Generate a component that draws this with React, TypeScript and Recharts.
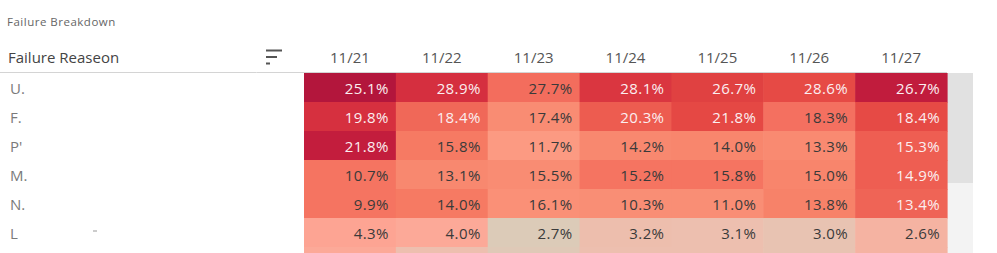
import React from "react";
import { ScatterChart, Scatter, XAxis, YAxis } from "recharts";

// ---- data ----
const dates = ["11/21", "11/22", "11/23", "11/24", "11/25", "11/26", "11/27"];
const reasons = ["U.", "F.", "P'", "M.", "N.", "L", "row7"];

const pctU = [25.1, 28.9, 27.7, 28.1, 26.7, 28.6, 26.7];
const pctF = [19.8, 18.4, 17.4, 20.3, 21.8, 18.3, 18.4];
const pctP = [21.8, 15.8, 11.7, 14.2, 14.0, 13.3, 15.3];
const pctM = [10.7, 13.1, 15.5, 15.2, 15.8, 15.0, 14.9];
const pctN = [9.9, 14.0, 16.1, 10.3, 11.0, 13.8, 13.4];
const pctL = [4.3, 4.0, 2.7, 3.2, 3.1, 3.0, 2.6];
const pctRow7: (number | null)[] = [null, null, null, null, null, null, null];

// colour measure (0..1) driving the heat colour
const heatU = [1.0, 0.88, 0.64, 0.86, 0.83, 0.79, 0.94];
const heatF = [0.875, 0.66, 0.45, 0.72, 0.8, 0.63, 0.79];
const heatP = [0.93, 0.58, 0.38, 0.48, 0.5, 0.47, 0.71];
const heatM = [0.61, 0.48, 0.45, 0.61, 0.61, 0.51, 0.71];
const heatN = [0.61, 0.58, 0.43, 0.44, 0.44, 0.53, 0.68];
const heatL = [0.3, 0.27, 0.0, 0.13, 0.12, 0.08, 0.2];
const heatRow7 = [0.27, 0.12, 0.02, 0.12, 0.12, 0.08, 0.2];

const pctRows = [pctU, pctF, pctP, pctM, pctN, pctL, pctRow7];
const heatRows = [heatU, heatF, heatP, heatM, heatN, heatL, heatRow7];

// ---- colour ramp ----
const ramp: [number, string][] = [
  [0.0, "#dccbb8"],
  [0.1, "#ebc1b1"],
  [0.15, "#efbcab"],
  [0.2, "#f5b3a2"],
  [0.28, "#fda797"],
  [0.38, "#fc9a82"],
  [0.45, "#f98c73"],
  [0.5, "#f8866d"],
  [0.58, "#f67a63"],
  [0.63, "#f47060"],
  [0.66, "#f06858"],
  [0.71, "#ee5e52"],
  [0.79, "#e64a45"],
  [0.83, "#e04141"],
  [0.87, "#d8323f"],
  [0.93, "#c31d3d"],
  [1.0, "#b3163c"],
];
const hex = (h: string) => [1, 3, 5].map((i) => parseInt(h.slice(i, i + 2), 16));
function heatColor(t: number) {
  for (let i = 1; i < ramp.length; i++) {
    if (t <= ramp[i][0]) {
      const [t0, c0] = ramp[i - 1];
      const [t1, c1] = ramp[i];
      const f = (t - t0) / (t1 - t0);
      const a = hex(c0);
      const b = hex(c1);
      const m = a.map((v, k) => Math.round(v + (b[k] - v) * f));
      return `rgb(${m[0]},${m[1]},${m[2]})`;
    }
  }
  return ramp[ramp.length - 1][1];
}

const cells = reasons.flatMap((reason, r) =>
  dates.map((date, c) => ({
    date,
    reason,
    pct: pctRows[r][c],
    heat: heatRows[r][c],
  }))
);

// ---- layout ----
const W = 997;
const PLOT_LEFT = 304;
const PLOT_RIGHT = 947;
const PLOT_TOP = 73;
const ROW_H = 29;
const CELL_W = (PLOT_RIGHT - PLOT_LEFT) / dates.length;
const H = PLOT_TOP + ROW_H * reasons.length;
const FONT = "'Open Sans', 'Noto Sans', sans-serif";

const CellShape = (props: any) => {
  const { cx, cy, payload } = props;
  if (cx == null || cy == null) return null;
  const fill = heatColor(payload.heat);
  const light = payload.heat >= 0.655;
  return (
    <g>
      <rect
        x={cx - CELL_W / 2}
        y={cy - ROW_H / 2}
        width={CELL_W + 0.6}
        height={ROW_H + 0.6}
        fill={fill}
      />
      {payload.pct != null && (
        <text
          x={cx + CELL_W / 2 - 7}
          y={cy + 6}
          textAnchor="end"
          fontFamily={FONT}
          fontSize={15}
          letterSpacing={0.4}
          fill={light ? "#fbeef0" : "#3a3a3a"}
        >
          {payload.pct.toFixed(1) + "%"}
        </text>
      )}
    </g>
  );
};

const DateTick = (props: any) => {
  const { x, payload } = props;
  return (
    <text x={x} y={63} textAnchor="middle" fontFamily={FONT} fontSize={15} fill="#555">
      {payload.value}
    </text>
  );
};

const ReasonTick = (props: any) => {
  const { y, payload } = props;
  if (payload.value === "row7") return null;
  return (
    <g>
      <text x={10} y={y + 6} textAnchor="start" fontFamily={FONT} fontSize={15} fill="#7a7a7a">
        {payload.value}
      </text>
      {payload.value === "L" && <rect x={93} y={y - 2} width={4} height={1} fill="#999" />}
    </g>
  );
};

export default function App() {
  return (
    <div style={{ position: "absolute", left: 0, top: 0, width: W, height: 253, overflow: "hidden", background: "#fff" }}>
      <svg width={W} height={253} style={{ position: "absolute", left: 0, top: 0 }}>
        <rect x={PLOT_RIGHT} y={PLOT_TOP} width={26} height={180} fill="#f3f3f3" />
        <rect x={PLOT_RIGHT} y={PLOT_TOP} width={26} height={110} fill="#e1e1e1" />
      </svg>
      <div style={{ position: "absolute", left: 0, top: 0 }}>
        <ScatterChart
          width={W}
          height={H}
          margin={{ top: PLOT_TOP - 30, right: W - PLOT_RIGHT, bottom: 0, left: 0 }}
        >
          <XAxis
            dataKey="date"
            type="category"
            allowDuplicatedCategory={false}
            orientation="top"
            height={30}
            axisLine={false}
            tickLine={false}
            interval={0}
            tick={<DateTick />}
          />
          <YAxis
            dataKey="reason"
            type="category"
            allowDuplicatedCategory={false}
            reversed
            width={PLOT_LEFT}
            axisLine={false}
            tickLine={false}
            interval={0}
            tick={<ReasonTick />}
          />
          <Scatter data={cells} shape={CellShape} isAnimationActive={false} />
        </ScatterChart>
      </div>
      <svg width={W} height={253} style={{ position: "absolute", left: 0, top: 0, pointerEvents: "none" }}>
        <text x={7} y={26} fontFamily={FONT} fontSize={11.5} letterSpacing={0.5} fill="#666">
          Failure Breakdown
        </text>
        <text x={8} y={63} fontFamily={FONT} fontSize={15} fill="#444">
          Failure Reaseon
        </text>
        <rect x={266} y={49.5} width={16} height={2} fill="#555" />
        <rect x={266} y={56} width={11} height={2} fill="#555" />
        <rect x={266} y={62.5} width={4} height={2} fill="#555" />
        <line x1={0} x2={PLOT_RIGHT} y1={72.5} y2={72.5} stroke="#d4d4d4" strokeWidth={1} />
      </svg>
    </div>
  );
}
